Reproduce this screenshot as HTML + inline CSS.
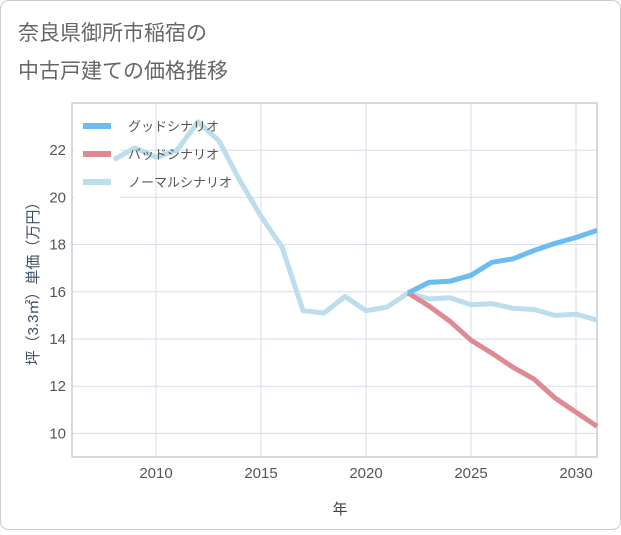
<!DOCTYPE html>
<html><head><meta charset="utf-8">
<style>
body{margin:0;background:#fff;}
#wrap{width:621px;height:530px;position:relative;font-family:"Liberation Sans","Noto Sans CJK JP",sans-serif;}
</style></head>
<body>
<div id="wrap">
<svg id="svg" width="621" height="530" xmlns="http://www.w3.org/2000/svg">
<rect x="0.5" y="0.5" width="620" height="529" rx="8" fill="#fff" stroke="#ccc"/>
<text x="18" y="40" font-size="21" fill="#666">奈良県御所市稲宿の</text>
<text x="18" y="78" font-size="21" fill="#666">中古戸建ての価格推移</text>
<g id="grid"></g>
<g id="legendbg"></g>
<g id="lines"></g>
<text x="340" y="514" font-size="15" fill="#444" text-anchor="middle">年</text>
<text transform="translate(38,280) rotate(-90)" font-size="15" fill="#3d4f63" text-anchor="middle">坪（3.3㎡）単価（万円）</text>
<g id="legend"></g>
</svg>
</div>
<script>
const years=[2008,2009,2010,2011,2012,2013,2014,2015,2016,2017,2018,2019,2020,2021,2022,2023,2024,2025,2026,2027,2028,2029,2030,2031];
const normalVals=[21.6,22.1,21.7,22.0,23.2,22.4,20.7,19.2,17.9,15.2,15.1,15.8,15.2,15.35,15.95,15.7,15.75,15.45,15.5,15.3,15.25,15.0,15.05,14.8];
const scenarioYears=[2022,2023,2024,2025,2026,2027,2028,2029,2030,2031];
const goodVals=[15.95,16.4,16.45,16.7,17.25,17.4,17.75,18.05,18.3,18.6];
const badVals=[15.95,15.4,14.75,13.95,13.4,12.8,12.3,11.5,10.9,10.3];
const xTicks=[2010,2015,2020,2025,2030];
const yTicks=[10,12,14,16,18,20,22];
const X0=72,X1=597,Y0=457,Y1=103,xmin=2006,xmax=2031,ymin=9,ymax=24;
const sx=v=>X0+(v-xmin)/(xmax-xmin)*(X1-X0);
const sy=v=>Y0-(v-ymin)/(ymax-ymin)*(Y0-Y1);
const NS="http://www.w3.org/2000/svg";
function mk(t,a,p){const e=document.createElementNS(NS,t);for(const k in a)e.setAttribute(k,a[k]);p.appendChild(e);return e;}
const grid=document.getElementById('grid');
xTicks.forEach(t=>{
 const l=mk('line',{x1:sx(t),x2:sx(t),y1:Y1,y2:Y0,stroke:'#d5dee8','stroke-width':1},grid);
 
 
 const tx=mk('text',{x:sx(t),y:Y0+21,'font-size':15,fill:'#555','text-anchor':'middle'},grid);
 tx.textContent=t;
 
 
});
yTicks.forEach(t=>{
 const l=mk('line',{x1:X0,x2:X1,y1:sy(t),y2:sy(t),stroke:'#d5dee8','stroke-width':1},grid);
 
 
 const tx=mk('text',{x:X0-6,y:sy(t)+5,'font-size':15,fill:'#555','text-anchor':'end'},grid);
 tx.textContent=t;
 
 
});
const ax=mk('rect',{x:X0,y:Y1,width:X1-X0,height:Y0-Y1,fill:'none',stroke:'#aab6c4','stroke-width':1},grid);


const bg=mk('rect',{x:74,y:110,width:46,height:90,fill:'#fff'},document.getElementById('legendbg'));


const lines=document.getElementById('lines');
function line(xs,ys,color,name){
 const d=xs.map((x,i)=>(i?'L':'M')+sx(x).toFixed(1)+','+sy(ys[i]).toFixed(1)).join('');
 const p=mk('path',{d:d,fill:'none',stroke:color,'stroke-width':5,'stroke-linejoin':'round','stroke-linecap':'butt'},lines);
 
 
}
line(years,normalVals,'#bcdeec','normal-scenario-line');
line(scenarioYears,badVals,'#de8a93','bad-scenario-line');
line(scenarioYears,goodVals,'#6bbcf2','good-scenario-line');
const lg=document.getElementById('legend');
[['グッドシナリオ','#6bbcf2'],['バッドシナリオ','#de8a93'],['ノーマルシナリオ','#bcdeec']].forEach((it,i)=>{
 const y=126+i*28;
 const g=mk('g',{},lg);
 
 
 mk('line',{x1:83,x2:111,y1:y,y2:y,stroke:it[1],'stroke-width':6},g);
 const t=mk('text',{x:128,y:y+5,'font-size':13,fill:'#555'},g);
 t.textContent=it[0];
});
</script>
</body></html>
